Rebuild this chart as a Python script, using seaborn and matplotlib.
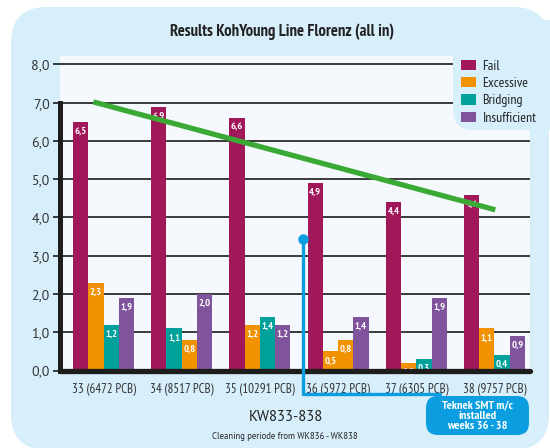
import matplotlib
matplotlib.use("Agg")
import matplotlib.pyplot as plt
import pandas as pd
import seaborn as sns
from matplotlib.patches import FancyBboxPatch, Patch
from matplotlib.ticker import FuncFormatter

# data
weeks = ["33 (6472 PCB)", "34 (8517 PCB)", "35 (10291 PCB)",
         "36 (5972 PCB)", "37 (6305 PCB)", "38 (9757 PCB)"]
fail = [6.5, 6.9, 6.6, 4.9, 4.4, 4.6]
# the 2nd and 3rd bar of each group are not always the same category in the original
second_vals = [2.3, 1.1, 1.2, 0.5, 0.2, 1.1]
second_kind = ["Excessive", "Bridging", "Excessive", "Excessive", "Excessive", "Excessive"]
third_vals = [1.2, 0.8, 1.4, 0.8, 0.3, 0.4]
third_kind = ["Bridging", "Excessive", "Bridging", "Excessive", "Bridging", "Bridging"]
insufficient = [1.9, 2.0, 1.2, 1.4, 1.9, 0.9]

categories = ["Fail", "Excessive", "Bridging", "Insufficient"]
trend_x = [-0.13, 5.01]
trend_y = [7.02, 4.2]

colors = {"Fail": "#a0185a", "Excessive": "#f39200",
          "Bridging": "#00a19a", "Insufficient": "#7f549c"}
BG = "#d7eefb"
DARK = "#1d1d1b"
BLUE = "#0a9ee0"
NARROW = ["PT Sans Narrow", "DejaVu Sans"]
REGULAR = ["PT Sans", "DejaVu Sans"]

sns.set_theme(style="white")
plt.rcParams["font.family"] = NARROW

fig = plt.figure(figsize=(5.5, 4.48), dpi=100)
fig.patch.set_facecolor("white")

# light blue rounded background panel
fig.add_artist(FancyBboxPatch((0.11, -0.02), 5.38, 4.43,
                              boxstyle="round,pad=0,rounding_size=0.36",
                              transform=fig.dpi_scale_trans,
                              fc=BG, ec="none", zorder=-5))

ax = fig.add_axes([59.5 / 550, 1 - 370.5 / 448, (530 - 59.5) / 550, (370.5 - 56) / 448])
ax.set_facecolor("#f5f9fd")

slots = [("s1", fail, ["Fail"] * 6),
         ("s2", second_vals, second_kind),
         ("s3", third_vals, third_kind),
         ("s4", insufficient, ["Insufficient"] * 6)]

rows = []
for name, vals, _ in slots:
    for w, v in zip(weeks, vals):
        rows.append({"week": w, "value": v, "slot": name})
df = pd.DataFrame(rows)

sns.barplot(data=df, x="week", y="value", hue="slot", order=weeks,
            hue_order=[s[0] for s in slots], width=0.78, saturation=1,
            legend=False, ax=ax, zorder=2)

for cont, (name, vals, kinds) in zip(ax.containers, slots):
    for bar, k in zip(cont, kinds):
        bar.set_facecolor(colors[k])
        bar.set_edgecolor("none")
    ax.bar_label(cont, labels=[f"{v:.1f}".replace(".", ",") for v in vals],
                 padding=-10, color="white", fontsize=7.5,
                 fontweight="bold", zorder=4)

ax.set_ylim(0, 8.22)
ax.set_xlim(-0.563, 5.454)
ax.set_yticks(range(0, 9))
ax.yaxis.set_major_formatter(FuncFormatter(lambda v, p: f"{v:.1f}".replace(".", ",")))
ax.yaxis.grid(True, color="#2b2b2b", lw=1.3)
ax.set_axisbelow(True)

for s in ["top", "right", "bottom"]:
    ax.spines[s].set_visible(False)
ax.spines["left"].set_bounds(0, 7)
ax.spines["left"].set_linewidth(3.6)
ax.spines["left"].set_color(DARK)
ax.axhline(0, color=DARK, lw=3.8, zorder=5, clip_on=False)

ax.tick_params(axis="y", left=True, length=5, width=1.3, color="#2b2b2b", pad=2)
ax.tick_params(axis="x", length=0, pad=9)
for lab in ax.get_yticklabels():
    lab.set_fontfamily(REGULAR)
    lab.set_fontsize(10)
    lab.set_color("#333333")
for lab in ax.get_xticklabels():
    lab.set_fontsize(9.3)
    lab.set_color("#333333")
ax.set_xlabel("")
ax.set_ylabel("")

# trend line
ax.plot(trend_x, trend_y, color="#3aaa35", lw=3.8, solid_capstyle="butt", zorder=6)

# Teknek annotation: connector line, dot and rounded label box
ax.plot([2.55, 2.55, 4.3], [3.44, -0.61, -0.61], color=BLUE, lw=2.4,
        clip_on=False, zorder=6, solid_joinstyle="round")
ax.plot([2.55], [3.44], "o", color=BLUE, ms=6.5, clip_on=False, zorder=7)
fig.add_artist(FancyBboxPatch((4.26, 0.13), 1.03, 0.39,
                              boxstyle="round,pad=0,rounding_size=0.12",
                              transform=fig.dpi_scale_trans,
                              fc=BLUE, ec="none", zorder=8))
fig.text(4.775 / 5.5, 0.325 / 4.48, "Teknek SMT m/c\ninstalled\nweeks 36 - 38",
         ha="center", va="center", color="white", fontsize=8.8, fontweight="bold",
         linespacing=1.0, zorder=9)

# legend panel
fig.add_artist(FancyBboxPatch((4.53, 3.18), 1.3, 1.1,
                              boxstyle="round,pad=0,rounding_size=0.2",
                              transform=fig.dpi_scale_trans,
                              fc=BG, ec="none", zorder=2))
handles = [Patch(fc=colors[c], ec="none") for c in categories]
fig.legend(handles, categories, loc="upper left",
           bbox_to_anchor=(461 / 550, 1 - 60 / 448), frameon=False,
           fontsize=10, handlelength=1.1, handleheight=0.75, handletextpad=0.45,
           labelspacing=0.3, borderpad=0, borderaxespad=0, labelcolor="#222222")

fig.text(282.5 / 550, 1 - 32 / 448, "Results KohYoung Line Florenz (all in)",
         ha="center", va="center", fontsize=12, fontweight="bold", color="#222222")
fig.text(286 / 550, 1 - 417 / 448, "KW833-838", ha="center", va="center",
         fontsize=10.5, family=REGULAR, color="#222222")
fig.text(285 / 550, 1 - 436 / 448, "Cleaning periode from WK836 - WK838",
         ha="center", va="center", fontsize=6.3, family=REGULAR, color="#222222")

fig.savefig("out.png", dpi=100)
